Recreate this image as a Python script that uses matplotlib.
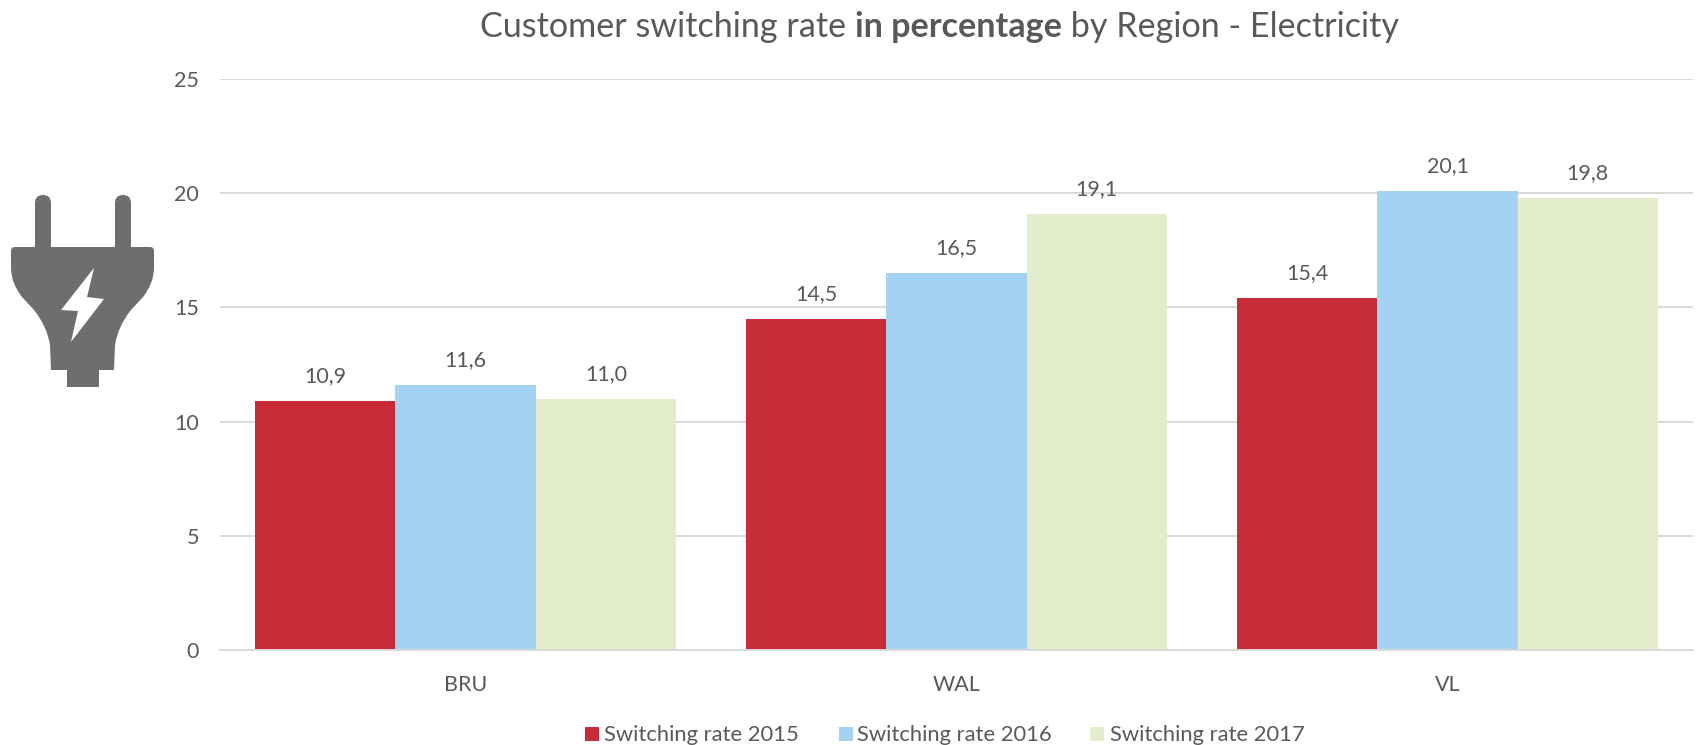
import matplotlib
matplotlib.use("Agg")
import matplotlib.pyplot as plt
from matplotlib.path import Path
from matplotlib.patches import PathPatch, Rectangle
from matplotlib.transforms import Affine2D

regions = ["BRU", "WAL", "VL"]
rate_2015 = [10.9, 14.5, 15.4]
rate_2016 = [11.6, 16.5, 20.1]
rate_2017 = [11.0, 19.1, 19.8]
series_names = ["Switching rate 2015", "Switching rate 2016", "Switching rate 2017"]
y_ticks = [0, 5, 10, 15, 20, 25]
title_parts = ["Customer switching rate ", "in percentage", " by Region - Electricity"]

RED, BLUE, GREEN = "#C82C39", "#A3D2F3", "#E3EDCB"
TXT, GRID, PLUG = "#595959", "#D9D9D9", "#6D6E70"
W, H = 1698, 745
plt.rcParams["font.family"] = ["Lato", "DejaVu Sans"]

fig = plt.figure(figsize=(W / 100, H / 100), dpi=100, facecolor="white")
L, R, T, B = 220, 1693, 79, 650
ax = fig.add_axes([L / W, 1 - B / H, (R - L) / W, (B - T) / H])
ax.set_xlim(-0.5, 2.5)
ax.set_ylim(0, 25)
ax.set_axisbelow(True)
ax.grid(axis="y", color=GRID, lw=1.4)
for s in ["top", "right", "left"]:
    ax.spines[s].set_visible(False)
ax.spines["bottom"].set_color(GRID)
ax.spines["bottom"].set_linewidth(1.4)
ax.set_yticks(y_ticks)
ax.set_xticks(range(len(regions)), regions)
ax.tick_params(axis="both", length=0, labelcolor=TXT, labelsize=15.5)
ax.tick_params(axis="y", pad=15)
ax.tick_params(axis="x", pad=18)

bw = 0.2858
for i, (vals, col) in enumerate(zip([rate_2015, rate_2016, rate_2017], [RED, BLUE, GREEN])):
    xs = [k + (i - 1) * bw for k in range(len(regions))]
    ax.bar(xs, vals, width=bw, color=col, linewidth=0)
    for x, v in zip(xs, vals):
        ax.annotate(f"{v:.1f}".replace(".", ","), (x, v), xytext=(0, 18), textcoords="offset points",
                    ha="center", va="center", color=TXT, fontsize=15.5)

px = Affine2D().scale(1, -1).translate(0, H)

# Title, three runs placed one after the other
renderer = fig.canvas.get_renderer()
tx = 480
for part, weight in zip(title_parts, ["normal", "bold", "normal"]):
    t = fig.text(tx, 37, part.replace(" ", "\u00a0"), transform=px, fontsize=24.6, color=TXT,
                 fontweight=weight, ha="left", va="baseline")
    tx = t.get_window_extent(renderer).x1

# Legend
leg_x = [(585, 604), (839, 857), (1090, 1110)]
for (sx, lx), name, col in zip(leg_x, series_names, [RED, BLUE, GREEN]):
    fig.add_artist(Rectangle((sx, 727), 14, 14, transform=px, fc=col, ec="none"))
    fig.text(lx, 741, name, transform=px, fontsize=15.8, color=TXT, ha="left", va="baseline")

# Plug icon
M, Li, C3 = Path.MOVETO, Path.LINETO, Path.CURVE3
outline = [
    (M, 35, 247), (Li, 35, 203), (C3, 35, 195), (C3, 43, 195), (C3, 51, 195), (C3, 51, 203), (Li, 51, 247),
    (Li, 115, 247), (Li, 115, 203), (C3, 115, 195), (C3, 123, 195), (C3, 131, 195), (C3, 131, 203), (Li, 131, 247),
    (Li, 150, 247), (C3, 154, 247), (C3, 154, 251), (Li, 154, 268), (C3, 154, 283), (C3, 143, 297),
    (Li, 131, 310), (C3, 118, 326), (C3, 115, 345), (Li, 114, 370),
    (Li, 99, 370), (Li, 99, 387), (Li, 67, 387), (Li, 67, 370), (Li, 51, 370),
    (Li, 50, 345), (C3, 47, 326), (C3, 34, 310), (Li, 22, 297), (C3, 11, 283), (C3, 11, 268),
    (Li, 11, 251), (C3, 11, 247), (C3, 15, 247), (Li, 35, 247),
]
codes = [p[0] for p in outline]
verts = [(p[1], p[2]) for p in outline]
fig.add_artist(PathPatch(Path(verts, codes), transform=px, fc=PLUG, ec="none"))
bolt = [(94, 268), (87, 297), (104, 299), (71, 342), (78, 311), (61, 310), (94, 268)]
fig.add_artist(PathPatch(Path(bolt, closed=True), transform=px, fc="white", ec="none"))

fig.savefig("out.png", dpi=100, facecolor="white")
